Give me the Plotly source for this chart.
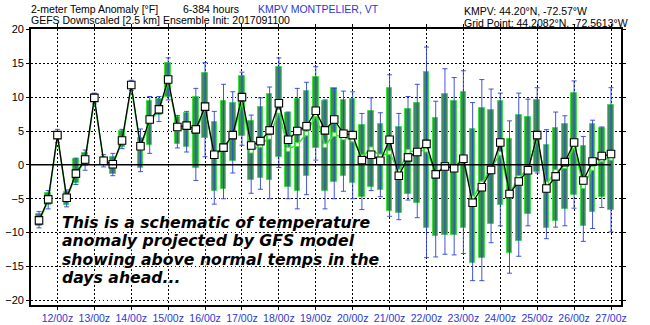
import plotly.graph_objects as go
import pandas as pd

# ---- data ----
init_time = "2017-09-11 00:00"
lead_hours = list(range(12, 385, 6))  # forecast lead times (h)

ens_mean = [-8.2, -5.1, 4.4, -4.85, -1.3, 0.8, 9.9, 0.6, 0.1, 3.6, 11.8, 2.75, 6.7, 8.2, 12.6,
            5.6, 5.8, 5.25, 8.6, 1.5, 2.55, 4.4, 10.0, 2.85, 3.5, 5.1, 9.1, 3.7, 5.0, 5.7, 8.0,
            5.1, 6.7, 4.6, 4.4, 0.7, 1.5, 0.6, 3.7, -1.6, 1.1, 1.9, 3.1, -1.4, -0.25, -0.5, 0.9,
            -5.6, -3.3, -0.75, 3.3, -4.3, -2.45, -0.8, 4.4, -3.5, -1.7, 0.4, 3.3, -2.3, 0.5, 1.3, 1.6]

ens_median = [-8.4, -5.3, 4.2, -5.0, -1.5, 0.6, 9.6, 0.5, 0.0, 3.4, 11.5, 2.5, 6.4, 8.0, 12.3,
              5.3, 5.5, 5.0, 8.3, 1.4, 2.4, 4.2, 9.3, 2.05, 2.9, 4.1, 7.9, 2.3, 3.0, 4.6, 7.4,
              2.85, 4.5, 4.0, 3.7, 1.2, 2.35, 1.3, 1.8, -1.0, 2.0, 2.0, 2.2, -1.2, -0.25, -0.25, 1.0,
              -4.9, -2.7, -0.5, 1.7, -4.2, -1.9, -0.6, 3.9, -2.8, -1.0, -0.25, 2.7, -3.2, -0.5, 0.75, 1.0]

box_low = [-9.0, -5.9, 3.8, -5.9, -2.7, -0.2, 9.4, 0.0, -1.3, 2.65, 11.3, -0.5, 2.9, 7.3, 10.0,
           3.1, 2.7, -0.5, 3.9, -3.9, -3.5, 0.5, 4.2, -2.2, -2.0, -2.2, 1.1, -3.2, -3.9, -1.7, 2.5,
           -3.9, -2.5, -1.7, -2.7, -4.8, -3.3, -3.7, -6.8, -7.1, -4.3, -5.6, -9.3, -10.5, -10.3, -10.3, -9.3,
           -14.5, -13.8, -8.8, -5.9, -13.0, -11.2, -7.2, -1.1, -9.3, -8.3, -6.5, -4.5, -9.1, -7.0, -4.7, -6.6]

box_high = [-7.3, -4.2, 4.8, -4.0, 0.8, 1.8, 10.4, 1.2, 1.2, 5.0, 12.3, 4.0, 9.5, 9.8, 15.1,
            7.1, 7.6, 10.0, 13.5, 6.4, 9.4, 9.1, 13.2, 6.5, 8.6, 10.4, 14.5, 7.7, 9.8, 10.9, 13.0,
            9.4, 11.3, 9.6, 9.7, 5.9, 7.9, 6.0, 11.4, 5.6, 8.2, 9.2, 13.7, 6.9, 10.5, 9.4, 10.8,
            5.3, 8.4, 8.1, 9.4, 3.8, 7.3, 7.0, 9.6, 2.9, 5.4, 6.0, 10.6, 2.8, 6.0, 5.5, 8.8]

whisker_low = [-9.3, -6.5, 3.3, -6.2, -2.9, -0.8, 9.0, -0.3, -1.6, 2.4, 11.0, -1.0, 1.7, 6.4, 9.6,
               2.5, 1.9, -2.3, 1.2, -5.8, -5.0, -1.2, 2.9, -4.2, -3.6, -5.0, -0.4, -5.0, -6.5, -4.4, 0.7,
               -6.5, -5.0, -3.9, -5.0, -6.6, -3.8, -4.7, -7.6, -8.1, -5.2, -7.8, -13.7, -13.6, -13.2, -13.3, -13.1,
               -17.1, -17.1, -11.5, -9.0, -16.0, -13.5, -9.0, -1.2, -10.9, -9.2, -9.0, -6.4, -11.3, -9.4, -6.3, -9.9]

whisker_high = [-6.9, -3.8, 5.25, -3.7, 1.0, 2.2, 10.6, 1.5, 1.7, 5.25, 12.5, 5.3, 10.1, 10.1, 15.8,
                7.3, 7.9, 11.3, 15.1, 7.9, 11.9, 10.8, 13.7, 7.35, 9.9, 11.5, 15.8, 7.8, 11.3, 12.2, 14.5,
                9.6, 11.3, 10.9, 10.8, 7.6, 9.9, 7.7, 13.3, 7.6, 10.1, 11.9, 17.4, 9.4, 14.2, 12.9, 13.9,
                9.2, 12.6, 11.2, 10.6, 6.5, 10.6, 9.7, 11.4, 5.2, 7.8, 7.25, 12.4, 4.2, 6.6, 5.6, 11.4]

day_labels = ["12/00z", "13/00z", "14/00z", "15/00z", "16/00z", "17/00z", "18/00z", "19/00z",
              "20/00z", "21/00z", "22/00z", "23/00z", "24/00z", "25/00z", "26/00z", "27/00z"]
y_ticks = [-20, -15, -10, -5, 0, 5, 10, 15, 20]

# ---- derived ----
t0 = pd.Timestamp(init_time)
times = [t0 + pd.Timedelta(hours=h) for h in lead_hours]
day_ticks = [pd.Timestamp("2017-09-%02d 00:00" % int(lbl.split("/")[0])) for lbl in day_labels]
box_size = [h - l for h, l in zip(box_high, box_low)]
err_plus = [h - m for h, m in zip(whisker_high, ens_mean)]
err_minus = [m - l for m, l in zip(ens_mean, whisker_low)]

x_range = [pd.Timestamp("2017-09-11 06:48"), pd.Timestamp("2017-09-27 06:30")]

BLUE = "#2b38d6"
FONT = "Liberation Sans"

fig = go.Figure()
fig.add_trace(go.Bar(
    x=times, y=box_size, base=box_low, width=3.6 * 3600 * 1000,
    marker=dict(color="#3a9056", line=dict(color="#3fe03f", width=1)),
    showlegend=False, hoverinfo="skip"))
fig.add_trace(go.Scatter(
    x=times, y=ens_mean, mode="markers",
    marker=dict(size=1, opacity=0),
    error_y=dict(type="data", symmetric=False, array=err_plus, arrayminus=err_minus,
                 color="rgba(45,65,220,0.9)", thickness=1, width=2.5),
    showlegend=False, hoverinfo="skip"))
fig.add_trace(go.Scatter(
    x=times, y=ens_median, mode="lines+markers",
    line=dict(color="#3ee03e", width=1.5),
    marker=dict(symbol="square", size=4, color="white", line=dict(color="#3ee03e", width=1)),
    showlegend=False))
fig.add_trace(go.Scatter(
    x=times, y=ens_mean, mode="lines+markers",
    line=dict(color="black", width=1.3),
    marker=dict(symbol="square", size=7.5, color="white", line=dict(color="black", width=1.1)),
    showlegend=False))

fig.add_shape(type="line", xref="x", yref="y", x0=x_range[0], x1=times[-1], y0=0, y1=0,
              line=dict(color="black", width=1.5), layer="above")

L, R, T, B = 31, 29, 29, 20
W, H = 650, 325
pw, ph = W - L - R, H - T - B


def px(xp):
    return (xp - L) / pw


def py(yp):
    return (H - B - yp) / ph


ann = []
ann.append(dict(text="2-meter Temp Anomaly [°F]", x=px(29), y=py(9), color="black"))
ann.append(dict(text="6-384 hours", x=px(181), y=py(9), color="black"))
ann.append(dict(text="KMPV MONTPELIER, VT", x=px(256), y=py(9), color=BLUE))
ann.append(dict(text="GEFS Downscaled [2.5 km] Ensemble Init: 2017091100",
                x=px(29), y=py(20.5), color="black"))
ann.append(dict(text="KMPV: 44.20°N, -72.57°W", x=px(462), y=py(11), color="black"))
ann.append(dict(text="Grid Point: 44.2082°N, -72.5613°W", x=px(462), y=py(23), color="black"))
for a in ann:
    c = a.pop("color")
    a.update(xref="paper", yref="paper", showarrow=False, xanchor="left", yanchor="middle",
             font=dict(family=FONT, size=10.5, color=c))

msg_lines = ["This is a schematic of temperature",
             "anomaly projected by GFS model",
             "showing above normal temps in the",
             "days ahead..."]
msg_y = [222, 240.5, 259, 277.5]
for line, yy in zip(msg_lines, msg_y):
    ann.append(dict(text=line, x=px(60), y=py(yy), xref="paper", yref="paper",
                    xanchor="left", yanchor="middle", showarrow=False,
                    font=dict(family="DejaVu Sans", size=15.7, color="black",
                              weight="bold", style="italic",
                              shadow="1px 1px 1px white, -1px -1px 1px white, "
                                     "1px -1px 1px white, -1px 1px 1px white")))

fig.update_layout(
    width=W, height=H, margin=dict(l=L, r=R, t=T, b=B, autoexpand=False),
    paper_bgcolor="white", plot_bgcolor="white",
    annotations=ann, bargap=0,
    xaxis=dict(type="date", range=x_range, tickvals=day_ticks, ticktext=day_labels,
               showgrid=True, gridcolor="black", gridwidth=1, griddash="1.5px,2.5px",
               showline=True, mirror="ticks", linecolor="black", linewidth=1.6,
               ticks="outside", ticklen=3, tickcolor="black", automargin=False,
               tickfont=dict(family=FONT, size=10.5, color=BLUE), zeroline=False),
    yaxis=dict(range=[-20.7, 20.07], tickvals=y_ticks,
               showgrid=True, gridcolor="black", gridwidth=1, griddash="1.5px,2.5px",
               showline=True, mirror="ticks", linecolor="black", linewidth=1.6,
               ticks="outside", ticklen=3, tickcolor="black", automargin=False,
               tickfont=dict(family=FONT, size=11, color="black"), zeroline=False),
)

fig.write_html("out.html")
